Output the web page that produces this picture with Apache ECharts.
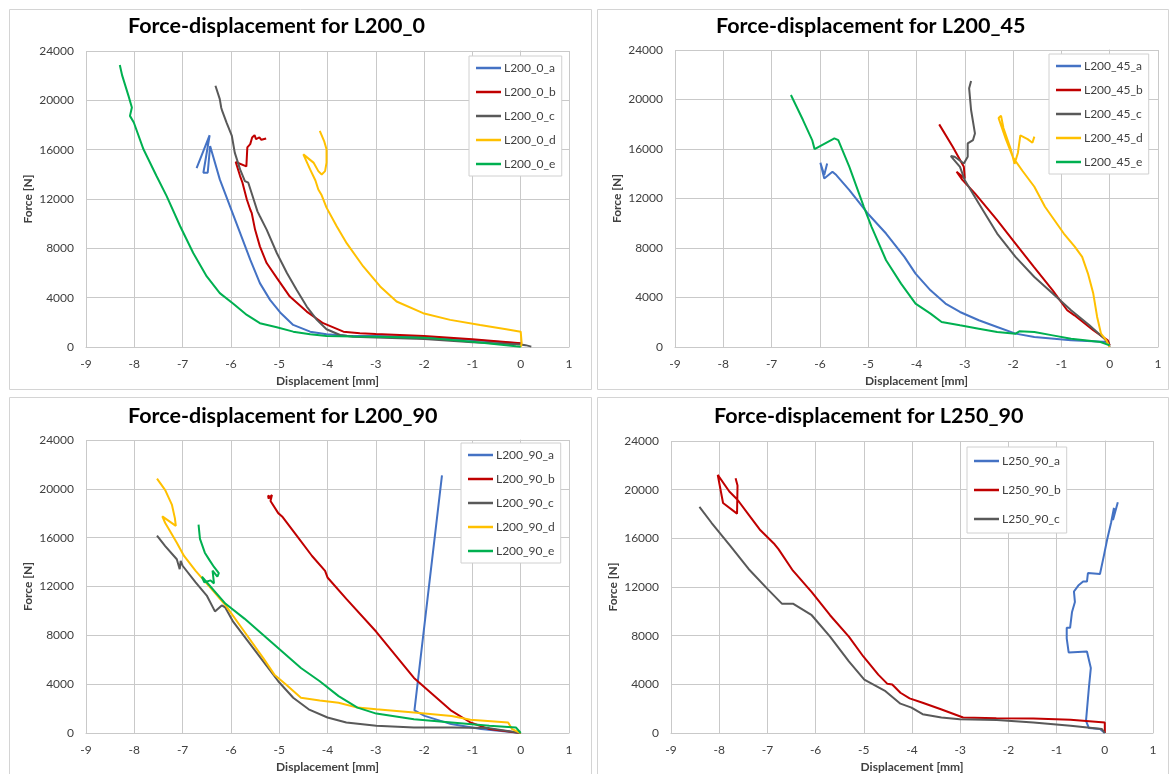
<!DOCTYPE html>
<html>
<head>
<meta charset="utf-8">
<script src="https://cdn.jsdelivr.net/npm/echarts@6/dist/echarts.min.js"></script>
<style>
  html, body { margin: 0; padding: 0; background: #fff; }
  #chart { width: 1170px; height: 774px; }
</style>
</head>
<body>
<div id="chart"></div>
<script>
// force [N] vs displacement [mm]
const l200_0_a = [[0, 280], [-1, 560], [-2, 820], [-3, 900], [-3.6, 920], [-4.02, 1030], [-4.36, 1245], [-4.71, 1790], [-4.98, 2800], [-5.19, 3820], [-5.4, 5180], [-5.6, 7080], [-5.81, 9250], [-6.02, 11415], [-6.23, 13590], [-6.43, 16300], [-6.48, 14130], [-6.57, 14130], [-6.44, 17170], [-6.71, 14500]]
const l200_0_b = [[0, 300], [-1, 620], [-2, 900], [-3, 1050], [-3.33, 1115], [-3.67, 1245], [-4.09, 1930], [-4.43, 2870], [-4.78, 4090], [-5.05, 5600], [-5.26, 6810], [-5.4, 8160], [-5.5, 9520], [-5.57, 10880], [-5.6, 11150], [-5.67, 11960], [-5.72, 12700], [-5.76, 13320], [-5.81, 13860], [-5.9, 15000], [-5.68, 14640], [-5.66, 16180], [-5.6, 16450], [-5.56, 16990], [-5.51, 17180], [-5.48, 16860], [-5.41, 16990], [-5.37, 16800], [-5.27, 16910]]
const l200_0_c = [[0.22, 30], [0.1, 150], [0, 200], [-1, 380], [-2, 650], [-3, 780], [-3.47, 840], [-3.74, 976], [-4.02, 1440], [-4.22, 2200], [-4.43, 3280], [-4.64, 4640], [-4.84, 6000], [-5.05, 7620], [-5.26, 9520], [-5.4, 10600], [-5.45, 11000], [-5.54, 12100], [-5.64, 13320], [-5.71, 13450], [-5.81, 14400], [-5.92, 15760], [-5.98, 17110], [-6.09, 18200], [-6.18, 19140], [-6.2, 19400], [-6.23, 20100], [-6.32, 21180]]
const l200_0_d = [[0, 0], [0.02, 300], [0, 1245], [-0.3, 1440], [-0.84, 1790], [-1.46, 2200], [-2.02, 2740], [-2.57, 3690], [-2.91, 4910], [-3.26, 6530], [-3.6, 8400], [-3.81, 9790], [-4.02, 11300], [-4.12, 12300], [-4.19, 12770], [-4.25, 13500], [-4.36, 14400], [-4.5, 15620], [-4.29, 14950], [-4.19, 14260], [-4.12, 13990], [-4.05, 14260], [-4.02, 14950], [-4.02, 16030], [-4.07, 16700], [-4.16, 17520]]
const l200_0_e = [[0, 20], [-0.1, 60], [-1, 430], [-2, 760], [-3, 830], [-3.47, 850], [-4.02, 895], [-4.36, 1030], [-4.71, 1245], [-5.05, 1600], [-5.4, 1930], [-5.67, 2600], [-5.95, 3500], [-6.23, 4370], [-6.5, 5720], [-6.78, 7620], [-7.05, 9790], [-7.33, 12230], [-7.54, 13860], [-7.81, 16030], [-8.01, 18200], [-8.09, 18740], [-8.05, 19420], [-8.12, 20360], [-8.25, 22000], [-8.3, 22860]]

const l200_45_a = [[0, 0], [-0.03, 405], [-0.8, 540], [-1.56, 810], [-1.95, 1080], [-2.33, 1620], [-2.71, 2160], [-3.1, 2830], [-3.4, 3510], [-3.71, 4580], [-4.02, 5930], [-4.25, 7280], [-4.63, 9170], [-5.01, 10790], [-5.39, 12680], [-5.66, 13890], [-5.74, 14160], [-5.91, 13620], [-5.99, 14890], [-5.91, 13900], [-5.85, 14830]]
const l200_45_b = [[0, 130], [-0.04, 540], [-0.34, 1350], [-0.73, 2560], [-0.88, 2970], [-1.18, 4580], [-1.57, 6470], [-1.95, 8360], [-2.33, 10250], [-2.79, 12410], [-3.05, 13500], [-3.17, 14160], [-3, 13620], [-3.02, 14560], [-3.25, 16180], [-3.53, 17990]]
const l200_45_c = [[0, 130], [-0.11, 670], [-0.42, 1750], [-0.8, 2970], [-1.18, 4320], [-1.56, 5660], [-1.95, 7280], [-2.33, 9170], [-2.71, 11600], [-3, 13480], [-3.1, 14560], [-3.29, 15430], [-3.21, 15370], [-3.02, 14830], [-2.94, 15370], [-2.94, 16450], [-2.83, 16720], [-2.79, 17260], [-2.87, 19150], [-2.91, 20900], [-2.87, 21500]]
const l200_45_d = [[0, 0], [-0.07, 540], [-0.18, 1080], [-0.26, 2430], [-0.34, 4320], [-0.45, 5930], [-0.57, 7280], [-0.72, 8090], [-0.95, 9170], [-1.34, 11330], [-1.56, 12950], [-1.8, 14200], [-2.0, 15300], [-2.15, 16800], [-2.3, 18500], [-2.25, 18700], [-2.2, 17700], [-2.05, 16000], [-1.97, 14800], [-1.9, 15700], [-1.85, 17100], [-1.7, 16800], [-1.6, 16500], [-1.56, 17000]]
const l200_45_e = [[0, 130], [-0.19, 400], [-0.8, 670], [-1.18, 940], [-1.56, 1210], [-1.87, 1270], [-1.95, 1080], [-2.33, 1210], [-2.71, 1480], [-3.1, 1750], [-3.48, 2020], [-3.71, 2700], [-4.02, 3510], [-4.32, 5120], [-4.63, 7010], [-4.93, 9710], [-5.09, 11330], [-5.39, 14560], [-5.62, 16720], [-5.7, 16860], [-6.11, 15990], [-6.16, 16720], [-6.35, 18340], [-6.6, 20360]]

const l200_90_a = [[0, 0], [-0.82, 320], [-1.44, 730], [-1.99, 1400], [-2.2, 1860], [-1.63, 21110]]
const l200_90_b = [[0, 0], [-0.65, 320], [-1.04, 860], [-1.43, 1810], [-1.82, 3160], [-2.21, 4510], [-2.6, 6400], [-2.99, 8290], [-3.61, 10990], [-4, 12740], [-4.05, 13280], [-4.32, 14500], [-4.63, 16120], [-4.94, 17740], [-5.02, 18010], [-5.18, 19000], [-5.15, 19500], [-5.22, 19200], [-5.23, 19450], [-5.18, 19300]]
const l200_90_c = [[0, 0], [-0.65, 400], [-1.43, 460], [-2.21, 460], [-2.99, 590], [-3.61, 860], [-4, 1270], [-4.39, 1940], [-4.71, 2890], [-5.02, 4240], [-5.33, 5860], [-5.64, 7480], [-5.95, 9100], [-6.12, 10300], [-6.19, 10450], [-6.33, 9960], [-6.5, 11260], [-6.73, 12340], [-7, 13700], [-7.04, 14090], [-7.06, 13420], [-7.12, 14230], [-7.36, 15310], [-7.53, 16170]]
const l200_90_d = [[0, 0], [-0.18, 320], [-0.26, 860], [-1.04, 1080], [-1.43, 1400], [-2.21, 1670], [-2.99, 1940], [-3.38, 2080], [-3.77, 2480], [-4.16, 2670], [-4.55, 2890], [-4.86, 3970], [-5.1, 4780], [-5.33, 6130], [-5.72, 8290], [-6.11, 10450], [-6.34, 11530], [-6.58, 12610], [-6.73, 13280], [-6.97, 14500], [-7.12, 15580], [-7.28, 16660], [-7.36, 17200], [-7.42, 17740], [-7.14, 16970], [-7.16, 17600], [-7.22, 18680], [-7.36, 19900], [-7.53, 20840]]
const l200_90_e = [[0, 0], [-0.1, 460], [-0.65, 590], [-1.43, 860], [-2.21, 1130], [-2.99, 1590], [-3.38, 2080], [-3.77, 3020], [-4.16, 4240], [-4.55, 5320], [-4.94, 6670], [-5.33, 8020], [-5.72, 9370], [-6.11, 10580], [-6.6, 12800], [-6.55, 12350], [-6.42, 12500], [-6.35, 12250], [-6.38, 13300], [-6.28, 12800], [-6.25, 13100], [-6.35, 13600], [-6.45, 14200], [-6.54, 14770], [-6.64, 15900], [-6.67, 17060]]

const l250_90_a = [[0, 0], [-0.1, 325], [-0.33, 410], [-0.39, 1000], [-0.33, 3720], [-0.29, 5340], [-0.33, 5400], [-0.37, 6700], [-0.75, 6620], [-0.79, 7780], [-0.79, 8650], [-0.72, 8650], [-0.68, 9950], [-0.62, 10770], [-0.64, 11630], [-0.55, 12120], [-0.45, 12450], [-0.37, 12450], [-0.35, 13150], [-0.1, 13070], [-0.02, 14560], [0.05, 15920], [0.13, 17280], [0.19, 18500], [0.17, 17500], [0.27, 18960]]
const l250_90_b = [[0, 0], [0, 870], [-0.71, 1080], [-1.48, 1190], [-2.25, 1220], [-2.94, 1270], [-3.4, 1950], [-3.78, 2490], [-4.05, 2850], [-4.24, 3310], [-4.41, 3990], [-4.51, 4040], [-4.7, 4800], [-5.01, 6290], [-5.31, 7920], [-5.7, 9680], [-6.08, 11580], [-6.47, 13340], [-6.77, 15110], [-6.85, 15510], [-7.16, 16730], [-7.39, 17950], [-7.62, 19170], [-7.79, 19850], [-8.03, 21210], [-7.92, 18900], [-7.63, 18030], [-7.62, 20340], [-7.66, 20940]]
const l250_90_c = [[0, 0], [-0.06, 325], [-0.71, 600], [-1.48, 870], [-2.24, 1060], [-3.01, 1140], [-3.39, 1270], [-3.78, 1550], [-4.01, 2090], [-4.24, 2410], [-4.55, 3440], [-4.99, 4390], [-5.31, 5890], [-5.7, 7920], [-6.08, 9680], [-6.47, 10630], [-6.7, 10630], [-7, 11850], [-7.39, 13480], [-7.77, 15380], [-8.16, 17280], [-8.41, 18580]]

const xTicks = { min: -9, max: 1, interval: 1 }
const yTicks = { min: 0, max: 24000, interval: 4000 }
const colors = ['#4472C4', '#C00000', '#595959', '#FFC000', '#00B050']

const panels = [
  { title: 'Force-displacement for L200_0', names: ['L200_0_a', 'L200_0_b', 'L200_0_c', 'L200_0_d', 'L200_0_e'], data: [l200_0_a, l200_0_b, l200_0_c, l200_0_d, l200_0_e] },
  { title: 'Force-displacement for L200_45', names: ['L200_45_a', 'L200_45_b', 'L200_45_c', 'L200_45_d', 'L200_45_e'], data: [l200_45_a, l200_45_b, l200_45_c, l200_45_d, l200_45_e] },
  { title: 'Force-displacement for L200_90', names: ['L200_90_a', 'L200_90_b', 'L200_90_c', 'L200_90_d', 'L200_90_e'], data: [l200_90_a, l200_90_b, l200_90_c, l200_90_d, l200_90_e] },
  { title: 'Force-displacement for L250_90', names: ['L250_90_a', 'L250_90_b', 'L250_90_c'], data: [l250_90_a, l250_90_b, l250_90_c] },
]

// layout of the four panels (pixels)
const grids = [
  { left: 86, top: 51, width: 483, height: 296 },
  { left: 675, top: 50, width: 483, height: 297 },
  { left: 86, top: 440, width: 483, height: 296 },
  { left: 671, top: 441, width: 482, height: 295 },
]
const titlePos = [{ left: 128, top: 15 }, { left: 716, top: 15 }, { left: 128, top: 405 }, { left: 714, top: 405 }]
const legendPos = [
  { left: 469, top: 56, itemGap: 10, padding: [5, 6, 5, 7] },
  { left: 1049, top: 54, itemGap: 10, padding: [5, 6, 5, 7] },
  { left: 461, top: 443, itemGap: 10, padding: [5, 6, 5, 7] },
  { left: 967, top: 447, itemGap: 15, padding: [7, 6, 7, 7] },
]
const frames = [[9, 9, 582, 380], [597, 9, 571, 380], [9, 397, 582, 400], [597, 397, 571, 400]]

const font = 'Lato, "Liberation Sans", sans-serif'
const gridColor = '#c9c9c9'

let myChart = echarts.init(document.getElementById('chart'))

let series = []
panels.forEach((p, i) => {
  p.data.forEach((d, j) => {
    series.push({
      name: p.names[j],
      type: 'line',
      xAxisIndex: i,
      yAxisIndex: i,
      data: d,
      symbol: 'none',
      animation: false,
      lineStyle: { color: colors[j], width: 2 },
      itemStyle: { color: colors[j] },
    })
  })
})

let option = {
  backgroundColor: '#fff',
  animation: false,
  title: panels.map((p, i) => ({
    text: p.title,
    left: titlePos[i].left,
    top: titlePos[i].top,
    padding: 0,
    textStyle: { fontFamily: font, fontSize: 21.5, fontWeight: 'bold', color: '#000' },
  })),
  legend: panels.map((p, i) => ({
    data: p.names,
    orient: 'vertical',
    left: legendPos[i].left,
    top: legendPos[i].top,
    itemGap: legendPos[i].itemGap,
    padding: legendPos[i].padding,
    icon: 'rect',
    itemWidth: 25,
    itemHeight: 2.5,
    backgroundColor: '#fff',
    borderColor: '#d0d0d0',
    borderWidth: 1,
    textStyle: { fontFamily: font, fontSize: 12, color: '#404040', lineHeight: 14, padding: [0, 0, 0, -2] },
  })),
  grid: grids.map((g) => Object.assign({ containLabel: false }, g)),
  xAxis: grids.map((g, i) => ({
    type: 'value',
    gridIndex: i,
    min: xTicks.min,
    max: xTicks.max,
    interval: xTicks.interval,
    name: 'Displacement [mm]',
    nameLocation: 'middle',
    nameGap: 28,
    nameTextStyle: { fontFamily: font, fontSize: 12, fontWeight: 'bold', color: '#404040' },
    axisLine: { lineStyle: { color: gridColor } },
    axisTick: { show: false },
    axisLabel: { fontFamily: font, fontSize: 12, color: '#404040', margin: 11 },
    splitLine: { show: true, lineStyle: { color: gridColor, width: 1 } },
  })),
  yAxis: grids.map((g, i) => ({
    type: 'value',
    gridIndex: i,
    min: yTicks.min,
    max: yTicks.max,
    interval: yTicks.interval,
    name: 'Force [N]',
    nameLocation: 'middle',
    nameGap: 52,
    nameTextStyle: { fontFamily: font, fontSize: 12, fontWeight: 'bold', color: '#404040' },
    axisLine: { show: true, lineStyle: { color: gridColor } },
    axisTick: { show: false },
    axisLabel: { fontFamily: font, fontSize: 12, color: '#404040', margin: 12, formatter: (v) => String(v) },
    splitLine: { show: true, lineStyle: { color: gridColor, width: 1 } },
  })),
  graphic: frames.map((f) => ({
    type: 'rect',
    silent: true,
    z: -10,
    shape: { x: f[0] + 0.5, y: f[1] + 0.5, width: f[2], height: f[3] },
    style: { fill: 'none', stroke: '#d4d4d4', lineWidth: 1 },
  })),
  series: series,
}

myChart.setOption(option)
</script>
</body>
</html>
